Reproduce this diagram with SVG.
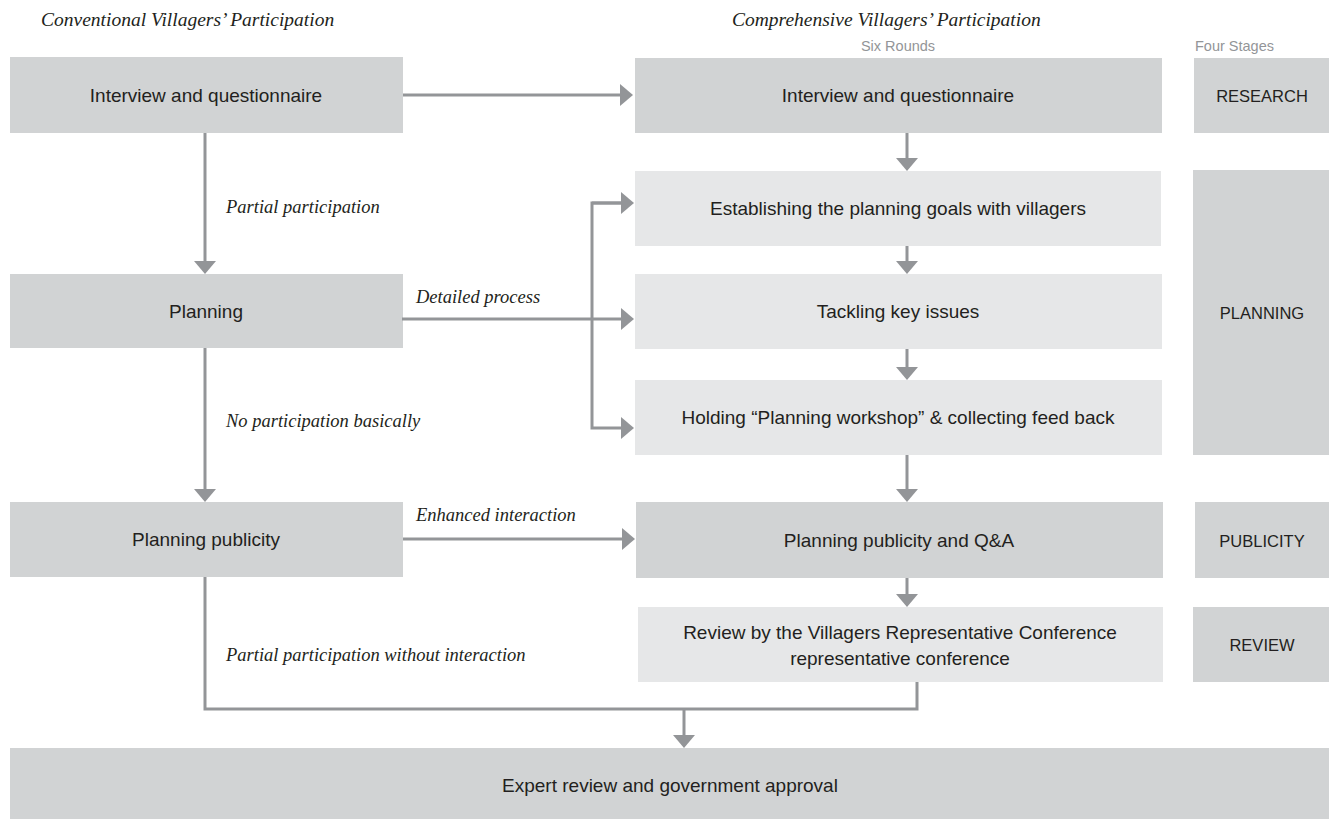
<svg xmlns="http://www.w3.org/2000/svg" width="1329" height="819" viewBox="0 0 1329 819">
<style>
.dark{fill:#d1d3d4}
.light{fill:#e6e7e8}
.bt{font-family:"Liberation Sans",Arial,sans-serif;font-size:19px;fill:#231f20;text-anchor:middle}
.st{font-family:"Liberation Sans",Arial,sans-serif;font-size:16.5px;fill:#231f20;text-anchor:middle}
.sm{font-family:"Liberation Sans",Arial,sans-serif;font-size:14.5px;fill:#939598}
.it{font-family:"Liberation Serif","Times New Roman",serif;font-style:italic;font-size:18.5px;fill:#231f20}
.ti{font-family:"Liberation Serif","Times New Roman",serif;font-style:italic;font-size:19.5px;fill:#231f20}
.c{fill:none;stroke:#939598;stroke-width:3;stroke-linejoin:miter}
</style>
<defs>
<marker id="ah" viewBox="0 0 13 22" markerWidth="13" markerHeight="22" refX="3" refY="11" orient="auto" markerUnits="userSpaceOnUse">
<path d="M0,0 L13,11 L0,22 z" fill="#939598"/>
</marker>
</defs>
<rect width="1329" height="819" fill="#ffffff"/>

<g id="titles">
<text class="ti" x="41" y="26">Conventional Villagers’ Participation</text>
<text class="ti" x="732" y="26">Comprehensive Villagers’ Participation</text>
<text class="sm" x="898" y="51" text-anchor="middle">Six Rounds</text>
<text class="sm" x="1195" y="51">Four Stages</text>
</g>

<g id="conv-interview"><rect class="dark" x="10" y="57" width="393" height="76"/><text class="bt" x="206" y="102">Interview and questionnaire</text></g>
<g id="conv-planning"><rect class="dark" x="10" y="274" width="393" height="74"/><text class="bt" x="206" y="318">Planning</text></g>
<g id="conv-publicity"><rect class="dark" x="10" y="502" width="393" height="75"/><text class="bt" x="206" y="546">Planning publicity</text></g>

<g id="comp-interview"><rect class="dark" x="635" y="58" width="527" height="75"/><text class="bt" x="898" y="102">Interview and questionnaire</text></g>
<g id="comp-goals"><rect class="light" x="635" y="171" width="526" height="75"/><text class="bt" x="898" y="215">Establishing the planning goals with villagers</text></g>
<g id="comp-issues"><rect class="light" x="635" y="274" width="527" height="75"/><text class="bt" x="898" y="318">Tackling key issues</text></g>
<g id="comp-workshop"><rect class="light" x="635" y="380" width="527" height="75"/><text class="bt" x="898" y="424">Holding “Planning workshop” &amp; collecting feed back</text></g>
<g id="comp-publicity"><rect class="dark" x="636" y="502" width="527" height="76"/><text class="bt" x="899" y="547">Planning publicity and Q&amp;A</text></g>
<g id="comp-review"><rect class="light" x="638" y="607" width="525" height="75"/><text class="bt" x="900" y="639">Review by the Villagers Representative Conference</text><text class="bt" x="900" y="665">representative conference</text></g>

<g id="stage-research"><rect class="dark" x="1194" y="58" width="135" height="75"/><text class="st" x="1262" y="102">RESEARCH</text></g>
<g id="stage-planning"><rect class="dark" x="1193" y="170" width="136" height="285"/><text class="st" x="1262" y="319">PLANNING</text></g>
<g id="stage-publicity"><rect class="dark" x="1195" y="502" width="134" height="76"/><text class="st" x="1262" y="547">PUBLICITY</text></g>
<g id="stage-review"><rect class="dark" x="1193" y="607" width="136" height="75"/><text class="st" x="1262" y="651">REVIEW</text></g>

<g id="expert"><rect class="dark" x="10" y="748" width="1319" height="71"/><text class="bt" x="670" y="792">Expert review and government approval</text></g>

<g id="connectors">
<path class="c" d="M403,95 H623" marker-end="url(#ah)"/>
<path class="c" d="M205,133 V264" marker-end="url(#ah)"/>
<path class="c" d="M205,348 V492" marker-end="url(#ah)"/>
<path class="c" d="M402,319 H624" marker-end="url(#ah)"/>
<path class="c" d="M624,203 H592 V428 H624" marker-end="url(#ah)"/>
<path class="c" d="M592,203 H624" marker-end="url(#ah)"/>
<path class="c" d="M403,539 H625" marker-end="url(#ah)"/>
<path class="c" d="M907,133 V161" marker-end="url(#ah)"/>
<path class="c" d="M907,246 V264" marker-end="url(#ah)"/>
<path class="c" d="M907,349 V370" marker-end="url(#ah)"/>
<path class="c" d="M907,455 V492" marker-end="url(#ah)"/>
<path class="c" d="M907,578 V597" marker-end="url(#ah)"/>
<path class="c" d="M205,577 V709 H917 V682"/>
<path class="c" d="M684,709 V738" marker-end="url(#ah)"/>
</g>

<g id="labels">
<text class="it" x="226" y="213">Partial participation</text>
<text class="it" x="416" y="303">Detailed process</text>
<text class="it" x="226" y="427">No participation basically</text>
<text class="it" x="416" y="521">Enhanced interaction</text>
<text class="it" x="226" y="661">Partial participation without interaction</text>
</g>
</svg>
